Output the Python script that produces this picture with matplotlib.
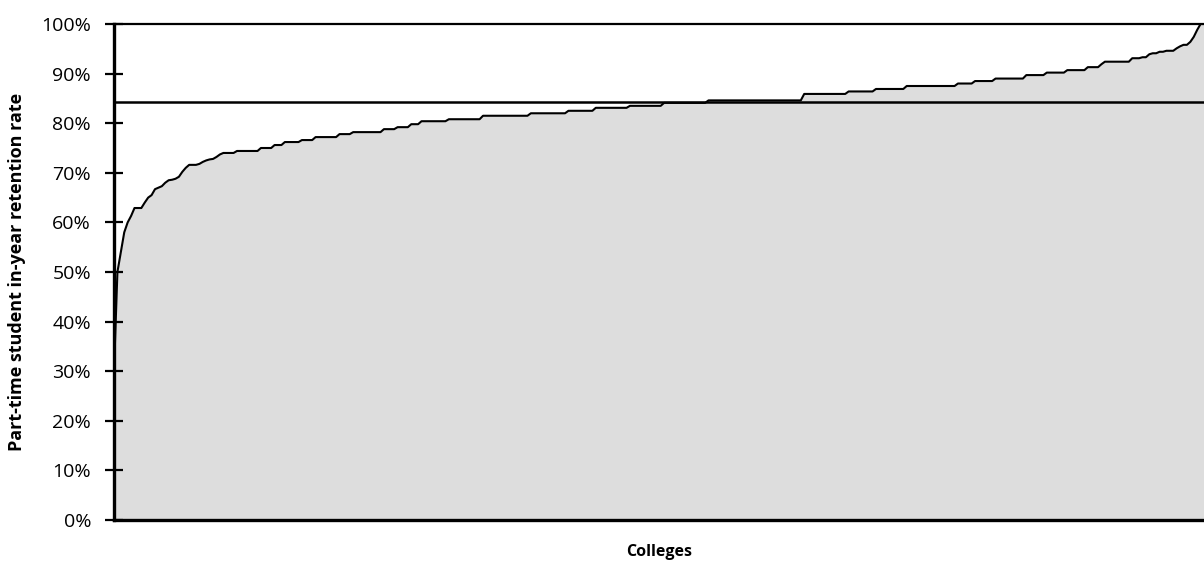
import matplotlib.pyplot as plt
import numpy as np
from matplotlib.ticker import PercentFormatter

plt.rcParams['font.family'] = ['Open Sans', 'DejaVu Sans']

# Sorted part-time retention rates (%), as distinct levels and how many colleges sit on each
levels = [30, 50, 54, 58, 60, 61.3, 62.9, 64, 65, 65.5, 66.7, 67, 67.3, 68, 68.5,
          68.6, 68.8, 69.2, 70.2, 71, 71.6, 71.8, 72.2, 72.5, 72.7, 72.8, 73.2, 73.7,
          74, 74.4, 75, 75.6, 76.2, 76.6, 77.2, 77.8, 78.2, 78.8, 79.2, 79.8, 80.4,
          80.8, 81.5, 82, 82.5, 83.1, 83.5, 84.1, 84.6, 85.9, 86.4, 86.9, 87.5, 88,
          88.5, 89, 89.7, 90.2, 90.7, 91.3, 91.9, 92.4, 93.1, 93.3, 93.9, 94.1, 94.4,
          94.6, 95.1, 95.5, 95.8, 96.4, 97.4, 98.8, 100]
counts = [1, 1, 1, 1, 1, 1, 3, 1, 1, 1, 1, 1, 1, 1, 1,
          1, 1, 1, 1, 1, 3, 1, 1, 1, 1, 1, 1, 1,
          4, 7, 4, 3, 5, 4, 7, 4, 9, 4, 4, 3, 8,
          10, 14, 11, 8, 10, 10, 13, 28, 13, 8, 9, 15, 5,
          6, 9, 6, 6, 6, 4, 1, 8, 3, 2, 1, 2, 2,
          3, 1, 1, 2, 1, 1, 1, 2]
benchmark = 84.2
yticks = [0, 10, 20, 30, 40, 50, 60, 70, 80, 90, 100]


def main():
    rates = np.repeat(levels, counts)
    x = np.arange(len(rates))

    fig = plt.figure(figsize=(12.04, 5.62), dpi=100)
    ax = fig.add_axes([114 / 1204, 1 - 520 / 562, 1 - 114 / 1204, (520 - 24) / 562])

    ax.fill_between(x, 0, rates, color='#dddddd', lw=0, zorder=1)
    ax.plot(x, rates, color='black', lw=1.5, zorder=3, solid_joinstyle='round')
    ax.axhline(benchmark, color='black', lw=1.8, zorder=4)

    ax.set_xlim(0, len(rates) - 1)
    ax.set_ylim(0, 100)
    ax.set_yticks(yticks)
    ax.yaxis.set_major_formatter(PercentFormatter(decimals=0))
    ax.set_xticks([])

    ax.spines['right'].set_visible(False)
    ax.spines['left'].set_linewidth(2.4)
    ax.spines['bottom'].set_linewidth(2.4)
    ax.spines['top'].set_linewidth(1.6)
    for s in ax.spines.values():
        s.set_zorder(5)
    ax.tick_params(axis='y', direction='inout', length=13, width=1.6,
                   pad=10, labelsize=14, colors='black')

    ax.set_ylabel('Part-time student in-year retention rate', fontsize=13,
                  fontweight='bold', labelpad=11)
    ax.set_xlabel('Colleges', fontsize=11.5, fontweight='bold', labelpad=17)

    fig.savefig('out.png', dpi=100)


if __name__ == "__main__":
    main()
